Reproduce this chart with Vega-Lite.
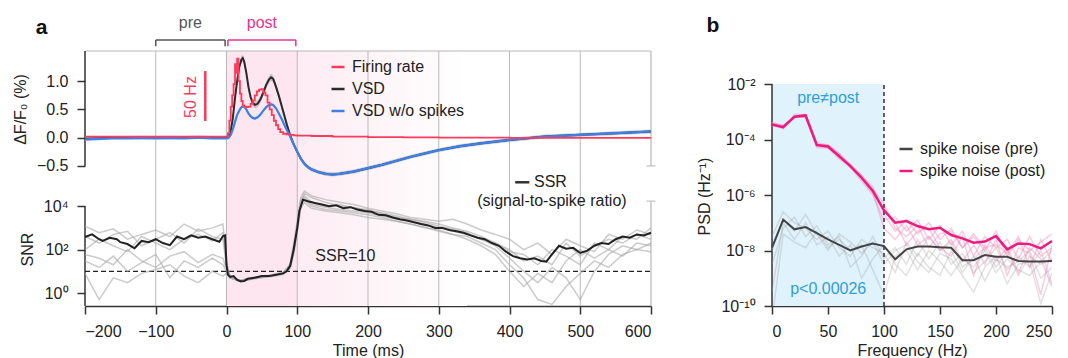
{
"$schema":"https://vega.github.io/schema/vega-lite/v6.json",
"background":"white",
"padding":{"left":12,"top":14,"right":0,"bottom":0},
"config":{"font":"Liberation Sans","view":{"stroke":null},
 "axis":{"labelFontSize":16,"titleFontSize":16,"labelColor":"#222","titleColor":"#222","tickColor":"#333","domainColor":"#333","tickWidth":1.5,"domainWidth":1.5,"tickSize":8,"labelPadding":9,"grid":false,"titleFontWeight":"normal"},
 "legend":{"labelFontSize":16,"labelColor":"#222","symbolType":"stroke","symbolStrokeWidth":2.5,"symbolSize":170,"padding":0,"rowPadding":6,"labelOffset":6}},
"datasets":{
 "vsd":[
  {"t":-200,"v":-0.02,"b":-0.03,"vl":-0.05,"vh":0.01,"bl":-0.055,"bh":-0.005},
  {"t":-180,"v":-0.01,"b":-0.02,"vl":-0.04,"vh":0.02,"bl":-0.045,"bh":0.005},
  {"t":-160,"v":0.0,"b":-0.01,"vl":-0.03,"vh":0.03,"bl":-0.035,"bh":0.015},
  {"t":-140,"v":0.0,"b":-0.01,"vl":-0.03,"vh":0.03,"bl":-0.035,"bh":0.015},
  {"t":-120,"v":0.005,"b":-0.005,"vl":-0.025,"vh":0.035,"bl":-0.03,"bh":0.02},
  {"t":-100,"v":0.0,"b":-0.01,"vl":-0.03,"vh":0.03,"bl":-0.035,"bh":0.015},
  {"t":-80,"v":0.005,"b":-0.005,"vl":-0.025,"vh":0.035,"bl":-0.03,"bh":0.02},
  {"t":-60,"v":0.0,"b":-0.01,"vl":-0.03,"vh":0.03,"bl":-0.035,"bh":0.015},
  {"t":-40,"v":0.01,"b":0.0,"vl":-0.02,"vh":0.04,"bl":-0.025,"bh":0.025},
  {"t":-20,"v":0.0,"b":-0.01,"vl":-0.03,"vh":0.03,"bl":-0.035,"bh":0.015},
  {"t":-5,"v":0.0,"b":-0.01,"vl":-0.03,"vh":0.03,"bl":-0.035,"bh":0.015},
  {"t":0,"v":0.0,"b":-0.01,"vl":-0.03,"vh":0.03,"bl":-0.035,"bh":0.015},
  {"t":3,"v":0.03,"b":0.0,"vl":-0.03,"vh":0.09,"bl":-0.025,"bh":0.025},
  {"t":6,"v":0.12,"b":0.05,"vl":0.06,"vh":0.18,"bl":0.025,"bh":0.075},
  {"t":9,"v":0.35,"b":0.15,"vl":0.29,"vh":0.41,"bl":0.125,"bh":0.175},
  {"t":12,"v":0.7,"b":0.28,"vl":0.64,"vh":0.76,"bl":0.255,"bh":0.305},
  {"t":15,"v":1.0,"b":0.4,"vl":0.94,"vh":1.06,"bl":0.375,"bh":0.425},
  {"t":18,"v":1.25,"b":0.48,"vl":1.19,"vh":1.31,"bl":0.455,"bh":0.505},
  {"t":21,"v":1.38,"b":0.54,"vl":1.32,"vh":1.44,"bl":0.515,"bh":0.565},
  {"t":23,"v":1.41,"b":0.555,"vl":1.35,"vh":1.47,"bl":0.53,"bh":0.58},
  {"t":25,"v":1.35,"b":0.55,"vl":1.29,"vh":1.41,"bl":0.525,"bh":0.575},
  {"t":28,"v":1.15,"b":0.5,"vl":1.09,"vh":1.21,"bl":0.475,"bh":0.525},
  {"t":31,"v":0.9,"b":0.43,"vl":0.84,"vh":0.96,"bl":0.405,"bh":0.455},
  {"t":34,"v":0.72,"b":0.38,"vl":0.66,"vh":0.78,"bl":0.355,"bh":0.405},
  {"t":37,"v":0.62,"b":0.35,"vl":0.56,"vh":0.68,"bl":0.325,"bh":0.375},
  {"t":40,"v":0.58,"b":0.34,"vl":0.52,"vh":0.64,"bl":0.315,"bh":0.365},
  {"t":44,"v":0.6,"b":0.36,"vl":0.54,"vh":0.66,"bl":0.335,"bh":0.385},
  {"t":48,"v":0.68,"b":0.41,"vl":0.62,"vh":0.74,"bl":0.385,"bh":0.435},
  {"t":52,"v":0.8,"b":0.48,"vl":0.74,"vh":0.86,"bl":0.455,"bh":0.505},
  {"t":56,"v":0.93,"b":0.54,"vl":0.87,"vh":0.99,"bl":0.515,"bh":0.565},
  {"t":60,"v":1.03,"b":0.58,"vl":0.97,"vh":1.09,"bl":0.555,"bh":0.605},
  {"t":63,"v":1.07,"b":0.59,"vl":1.01,"vh":1.13,"bl":0.565,"bh":0.615},
  {"t":66,"v":1.04,"b":0.58,"vl":0.98,"vh":1.1,"bl":0.555,"bh":0.605},
  {"t":70,"v":0.9,"b":0.52,"vl":0.84,"vh":0.96,"bl":0.495,"bh":0.545},
  {"t":74,"v":0.74,"b":0.43,"vl":0.68,"vh":0.8,"bl":0.405,"bh":0.455},
  {"t":78,"v":0.56,"b":0.33,"vl":0.5,"vh":0.62,"bl":0.305,"bh":0.355},
  {"t":82,"v":0.38,"b":0.22,"vl":0.32,"vh":0.44,"bl":0.195,"bh":0.245},
  {"t":86,"v":0.2,"b":0.12,"vl":0.14,"vh":0.26,"bl":0.095,"bh":0.145},
  {"t":90,"v":0.04,"b":0.02,"vl":-0.01,"vh":0.09,"bl":-0.005,"bh":0.045},
  {"t":95,"v":-0.12,"b":-0.12,"vl":-0.155,"vh":-0.085,"bl":-0.145,"bh":-0.095},
  {"t":100,"v":-0.25,"b":-0.25,"vl":-0.285,"vh":-0.215,"bl":-0.275,"bh":-0.225},
  {"t":105,"v":-0.37,"b":-0.37,"vl":-0.405,"vh":-0.335,"bl":-0.395,"bh":-0.345},
  {"t":110,"v":-0.46,"b":-0.46,"vl":-0.495,"vh":-0.425,"bl":-0.485,"bh":-0.435},
  {"t":115,"v":-0.52,"b":-0.52,"vl":-0.555,"vh":-0.485,"bl":-0.545,"bh":-0.495},
  {"t":120,"v":-0.56,"b":-0.56,"vl":-0.595,"vh":-0.525,"bl":-0.585,"bh":-0.535},
  {"t":130,"v":-0.61,"b":-0.61,"vl":-0.645,"vh":-0.575,"bl":-0.635,"bh":-0.585},
  {"t":140,"v":-0.64,"b":-0.64,"vl":-0.675,"vh":-0.605,"bl":-0.665,"bh":-0.615},
  {"t":150,"v":-0.65,"b":-0.65,"vl":-0.685,"vh":-0.615,"bl":-0.675,"bh":-0.625},
  {"t":160,"v":-0.64,"b":-0.64,"vl":-0.675,"vh":-0.605,"bl":-0.665,"bh":-0.615},
  {"t":170,"v":-0.62,"b":-0.62,"vl":-0.655,"vh":-0.585,"bl":-0.645,"bh":-0.595},
  {"t":180,"v":-0.6,"b":-0.6,"vl":-0.635,"vh":-0.565,"bl":-0.625,"bh":-0.575},
  {"t":200,"v":-0.54,"b":-0.54,"vl":-0.575,"vh":-0.505,"bl":-0.565,"bh":-0.515},
  {"t":220,"v":-0.48,"b":-0.48,"vl":-0.515,"vh":-0.445,"bl":-0.505,"bh":-0.455},
  {"t":240,"v":-0.41,"b":-0.41,"vl":-0.445,"vh":-0.375,"bl":-0.435,"bh":-0.385},
  {"t":260,"v":-0.34,"b":-0.34,"vl":-0.375,"vh":-0.305,"bl":-0.365,"bh":-0.315},
  {"t":280,"v":-0.28,"b":-0.28,"vl":-0.315,"vh":-0.245,"bl":-0.305,"bh":-0.255},
  {"t":300,"v":-0.22,"b":-0.22,"vl":-0.255,"vh":-0.185,"bl":-0.245,"bh":-0.195},
  {"t":330,"v":-0.15,"b":-0.15,"vl":-0.185,"vh":-0.115,"bl":-0.175,"bh":-0.125},
  {"t":360,"v":-0.1,"b":-0.1,"vl":-0.135,"vh":-0.065,"bl":-0.125,"bh":-0.075},
  {"t":400,"v":-0.04,"b":-0.04,"vl":-0.075,"vh":-0.005,"bl":-0.065,"bh":-0.015},
  {"t":450,"v":0.02,"b":0.02,"vl":-0.015,"vh":0.055,"bl":-0.005,"bh":0.045},
  {"t":500,"v":0.05,"b":0.05,"vl":0.015,"vh":0.085,"bl":0.025,"bh":0.075},
  {"t":550,"v":0.08,"b":0.08,"vl":0.045,"vh":0.115,"bl":0.055,"bh":0.105},
  {"t":600,"v":0.11,"b":0.11,"vl":0.075,"vh":0.145,"bl":0.085,"bh":0.135}
 ],
 "fr":[
  {"t":-200,"v":0.02},{"t":-100,"v":0.02},{"t":0,"v":0.02},{"t":2,"v":0.08},{"t":4,"v":0.3},{"t":6,"v":0.55},{"t":8,"v":0.75},{"t":10,"v":0.95},{"t":12,"v":1.3},{"t":13.5,"v":1.15},{"t":15,"v":1.4},{"t":17,"v":1.0},{"t":19,"v":0.78},{"t":21,"v":0.65},{"t":23,"v":0.57},{"t":25,"v":0.55},{"t":28,"v":0.54},{"t":31,"v":0.55},{"t":34,"v":0.6},{"t":37,"v":0.66},{"t":40,"v":0.75},{"t":43,"v":0.82},{"t":46,"v":0.85},{"t":49,"v":0.86},{"t":52,"v":0.8},{"t":55,"v":0.75},{"t":58,"v":0.62},{"t":61,"v":0.5},{"t":64,"v":0.4},{"t":67,"v":0.3},{"t":70,"v":0.22},{"t":73,"v":0.15},{"t":76,"v":0.1},{"t":80,"v":0.07},{"t":85,"v":0.06},{"t":90,"v":0.05},{"t":95,"v":0.04},{"t":100,"v":0.035},{"t":120,"v":0.03},{"t":150,"v":0.02},{"t":200,"v":0.01},{"t":250,"v":0.005},{"t":300,"v":0.0},{"t":400,"v":-0.005},{"t":600,"v":-0.005}
 ],
 "snr":[
  {"t":-200,"v":380},{"t":-190,"v":500},{"t":-180,"v":300},{"t":-175,"v":250},{"t":-165,"v":350},{"t":-155,"v":300},{"t":-150,"v":220},{"t":-140,"v":180},{"t":-130,"v":115},{"t":-120,"v":250},{"t":-110,"v":220},{"t":-100,"v":300},{"t":-90,"v":200},{"t":-80,"v":160},{"t":-70,"v":400},{"t":-60,"v":300},{"t":-50,"v":450},{"t":-40,"v":350},{"t":-30,"v":400},{"t":-20,"v":300},{"t":-10,"v":230},{"t":-5,"v":420},{"t":-2,"v":450},{"t":0,"v":20},{"t":2,"v":7},{"t":5,"v":5.5},{"t":10,"v":6},{"t":15,"v":4},{"t":20,"v":3.5},{"t":25,"v":3.6},{"t":30,"v":4.5},{"t":40,"v":5},{"t":50,"v":6},{"t":60,"v":6},{"t":70,"v":7},{"t":80,"v":8},{"t":85,"v":10},{"t":90,"v":18},{"t":95,"v":100},{"t":100,"v":1000},{"t":103,"v":6000},{"t":108,"v":20000},{"t":115,"v":17000},{"t":125,"v":14000},{"t":135,"v":12000},{"t":145,"v":10000},{"t":155,"v":11000},{"t":165,"v":8000},{"t":175,"v":9000},{"t":185,"v":7000},{"t":195,"v":6000},{"t":205,"v":5500},{"t":215,"v":4000},{"t":225,"v":3800},{"t":235,"v":3000},{"t":245,"v":2500},{"t":255,"v":2200},{"t":265,"v":1800},{"t":275,"v":1500},{"t":285,"v":1300},{"t":295,"v":1000},{"t":305,"v":1000},{"t":315,"v":800},{"t":325,"v":700},{"t":335,"v":600},{"t":345,"v":450},{"t":355,"v":350},{"t":365,"v":300},{"t":375,"v":200},{"t":385,"v":150},{"t":395,"v":80},{"t":405,"v":50},{"t":415,"v":40},{"t":425,"v":35},{"t":435,"v":40},{"t":445,"v":30},{"t":452,"v":28},{"t":460,"v":60},{"t":470,"v":150},{"t":480,"v":110},{"t":490,"v":120},{"t":500,"v":70},{"t":510,"v":90},{"t":520,"v":150},{"t":530,"v":200},{"t":540,"v":180},{"t":550,"v":300},{"t":560,"v":400},{"t":570,"v":350},{"t":580,"v":500},{"t":590,"v":450},{"t":600,"v":600}
 ],
 "snri":[
  {"t":-200,"g1":1200,"g2":100,"g3":30,"g4":400,"g5":8,"g6":60},
  {"t":-180,"g1":600,"g2":300,"g3":15,"g4":200,"g5":0.5,"g6":40},
  {"t":-160,"g1":900,"g2":150,"g3":50,"g4":500,"g5":5,"g6":20},
  {"t":-140,"g1":300,"g2":80,"g3":10,"g4":700,"g5":3,"g6":100},
  {"t":-120,"g1":500,"g2":400,"g3":25,"g4":150,"g5":8,"g6":30},
  {"t":-100,"g1":800,"g2":200,"g3":60,"g4":300,"g5":12,"g6":15},
  {"t":-80,"g1":400,"g2":100,"g3":5,"g4":600,"g5":20,"g6":50},
  {"t":-60,"g1":1500,"g2":300,"g3":30,"g4":200,"g5":6,"g6":80},
  {"t":-40,"g1":700,"g2":500,"g3":15,"g4":900,"g5":3,"g6":25},
  {"t":-20,"g1":1000,"g2":250,"g3":40,"g4":400,"g5":10,"g6":60},
  {"t":-5,"g1":1500,"g2":600,"g3":20,"g4":300,"g5":6,"g6":40},
  {"t":0,"g1":30,"g2":20,"g3":10,"g4":15,"g5":8,"g6":12},
  {"t":5,"g1":5,"g2":6,"g3":5,"g4":6.5,"g5":5,"g6":5.5},
  {"t":20,"g1":3.3,"g2":3.8,"g3":3.5,"g4":3.2,"g5":3.9,"g6":3.6},
  {"t":40,"g1":5,"g2":5.5,"g3":4.5,"g4":5,"g5":5.5,"g6":4.8},
  {"t":60,"g1":6,"g2":6.5,"g3":5.5,"g4":6.2,"g5":5.8,"g6":6},
  {"t":80,"g1":8,"g2":9,"g3":7,"g4":8.5,"g5":7.5,"g6":8},
  {"t":90,"g1":15,"g2":20,"g3":14,"g4":18,"g5":16,"g6":22},
  {"t":95,"g1":80,"g2":150,"g3":60,"g4":120,"g5":90,"g6":200},
  {"t":100,"g1":800,"g2":1500,"g3":600,"g4":1200,"g5":900,"g6":2000},
  {"t":105,"g1":12000,"g2":20000,"g3":8000,"g4":15000,"g5":10000,"g6":25000},
  {"t":110,"g1":40000,"g2":30000,"g3":15000,"g4":25000,"g5":20000,"g6":50000},
  {"t":120,"g1":25000,"g2":15000,"g3":8000,"g4":12000,"g5":10000,"g6":30000},
  {"t":140,"g1":15000,"g2":10000,"g3":6000,"g4":9000,"g5":7000,"g6":20000},
  {"t":160,"g1":10000,"g2":12000,"g3":5000,"g4":7000,"g5":6000,"g6":15000},
  {"t":180,"g1":9000,"g2":8000,"g3":4000,"g4":6000,"g5":5000,"g6":12000},
  {"t":200,"g1":6000,"g2":7000,"g3":3000,"g4":5000,"g5":4000,"g6":8000},
  {"t":220,"g1":5000,"g2":4500,"g3":2500,"g4":3500,"g5":3000,"g6":6000},
  {"t":240,"g1":3500,"g2":3000,"g3":2000,"g4":2500,"g5":2000,"g6":4500},
  {"t":260,"g1":2500,"g2":2500,"g3":1500,"g4":2000,"g5":1500,"g6":3000},
  {"t":280,"g1":2000,"g2":1800,"g3":1000,"g4":1500,"g5":1100,"g6":2500},
  {"t":300,"g1":1500,"g2":1200,"g3":800,"g4":1000,"g5":700,"g6":2000},
  {"t":320,"g1":1000,"g2":900,"g3":500,"g4":700,"g5":500,"g6":2500},
  {"t":340,"g1":700,"g2":600,"g3":300,"g4":500,"g5":400,"g6":1500},
  {"t":360,"g1":400,"g2":300,"g3":150,"g4":300,"g5":200,"g6":800},
  {"t":380,"g1":200,"g2":150,"g3":60,"g4":200,"g5":100,"g6":500},
  {"t":400,"g1":100,"g2":40,"g3":10,"g4":80,"g5":20,"g6":300},
  {"t":420,"g1":30,"g2":10,"g3":2,"g4":60,"g5":5,"g6":100},
  {"t":440,"g1":50,"g2":3,"g3":8,"g4":20,"g5":0.5,"g6":200},
  {"t":460,"g1":20,"g2":15,"g3":3,"g4":100,"g5":0.3,"g6":60},
  {"t":480,"g1":200,"g2":5,"g3":30,"g4":50,"g5":2,"g6":300},
  {"t":500,"g1":50,"g2":0.5,"g3":100,"g4":20,"g5":8,"g6":150},
  {"t":520,"g1":150,"g2":10,"g3":40,"g4":200,"g5":30,"g6":80},
  {"t":540,"g1":300,"g2":60,"g3":100,"g4":100,"g5":15,"g6":500},
  {"t":560,"g1":200,"g2":150,"g3":50,"g4":400,"g5":60,"g6":300},
  {"t":580,"g1":500,"g2":100,"g3":200,"g4":300,"g5":100,"g6":800},
  {"t":600,"g1":300,"g2":200,"g3":150,"g4":1000,"g5":80,"g6":500}
 ],
 "psd":[
  {"f":0,"pre":1.26e-8,"post":3.5e-4,"a1":3.2e-8,"a2":3.2e-9,"a3":3.2e-10,"a4":3.2e-11,"a5":1e-8,"b1":4e-4,"b2":3.2e-4,"b3":4e-4,"b4":3.2e-4,"b5":4e-4},
  {"f":10,"pre":1.3e-7,"post":2.8e-4,"a1":2.5e-7,"a2":6.3e-8,"a3":1e-7,"a4":4e-8,"a5":1.26e-7,"b1":3.2e-4,"b2":2.5e-4,"b3":2.5e-4,"b4":3.2e-4,"b5":3.2e-4},
  {"f":20,"pre":5.8e-8,"post":6.6e-4,"a1":1e-7,"a2":1.6e-7,"a3":2.5e-8,"a4":2e-8,"a5":5e-8,"b1":6.3e-4,"b2":6.3e-4,"b3":7.9e-4,"b4":6.3e-4,"b5":6.3e-4},
  {"f":30,"pre":7e-8,"post":7.4e-4,"a1":6.3e-8,"a2":3.2e-8,"a3":1e-7,"a4":1.26e-8,"a5":2e-7,"b1":7.9e-4,"b2":6.3e-4,"b3":7.9e-4,"b4":6.3e-4,"b5":7.9e-4},
  {"f":40,"pre":4.2e-8,"post":6.3e-5,"a1":2.5e-8,"a2":7.9e-8,"a3":1.6e-8,"a4":5e-8,"a5":4e-8,"b1":7.9e-5,"b2":5e-5,"b3":6.3e-5,"b4":6.3e-5,"b5":6.3e-5},
  {"f":50,"pre":2.5e-8,"post":5.6e-5,"a1":5e-8,"a2":1.6e-8,"a3":3.2e-8,"a4":1.26e-8,"a5":1e-8,"b1":6.3e-5,"b2":5e-5,"b3":6.3e-5,"b4":5e-5,"b5":6.3e-5},
  {"f":60,"pre":1.6e-8,"post":2.5e-5,"a1":1.26e-8,"a2":3.2e-8,"a3":6.3e-9,"a4":2.5e-8,"a5":4e-8,"b1":3.2e-5,"b2":2e-5,"b3":2.5e-5,"b4":2.5e-5,"b5":3.2e-5},
  {"f":70,"pre":1e-8,"post":1.1e-5,"a1":6.3e-9,"a2":2.5e-9,"a3":1.6e-8,"a4":1e-8,"a5":2e-8,"b1":1.26e-5,"b2":1e-5,"b3":1e-5,"b4":1.26e-5,"b5":1e-5},
  {"f":80,"pre":1.4e-8,"post":4.2e-6,"a1":2.5e-8,"a2":6.3e-9,"a3":1e-9,"a4":1.6e-8,"a5":7.9e-9,"b1":5e-6,"b2":3.2e-6,"b3":4e-6,"b4":5e-6,"b5":4e-6},
  {"f":90,"pre":1.8e-8,"post":1.4e-6,"a1":1.26e-8,"a2":3.2e-8,"a3":5e-9,"a4":2e-9,"a5":2e-8,"b1":2e-6,"b2":1e-6,"b3":1.26e-6,"b4":1.6e-6,"b5":1.26e-6},
  {"f":100,"pre":1.45e-8,"post":2.8e-7,"a1":7.9e-9,"a2":5e-9,"a3":1.6e-8,"a4":2.5e-10,"a5":3.2e-9,"b1":2e-7,"b2":1.26e-7,"b3":6.3e-8,"b4":5e-7,"b5":3.2e-7},
  {"f":110,"pre":4.8e-9,"post":1e-7,"a1":1.6e-9,"a2":1.26e-8,"a3":3.2e-9,"a4":6.3e-9,"a5":1e-8,"b1":5e-8,"b2":1.6e-7,"b3":2.5e-8,"b4":6.3e-8,"b5":1e-7},
  {"f":120,"pre":1.1e-8,"post":1.15e-7,"a1":2e-8,"a2":3.2e-9,"a3":1.26e-9,"a4":1e-8,"a5":1.6e-8,"b1":1.26e-7,"b2":5e-8,"b3":7.9e-8,"b4":3.2e-8,"b5":1.6e-8},
  {"f":130,"pre":1.4e-8,"post":7.6e-8,"a1":6.3e-9,"a2":2.5e-8,"a3":7.9e-9,"a4":2e-9,"a5":4e-9,"b1":4e-8,"b2":1.26e-7,"b3":1.6e-8,"b4":7.9e-8,"b5":5e-8},
  {"f":140,"pre":1.4e-8,"post":5.8e-8,"a1":3.2e-8,"a2":5e-9,"a3":2.5e-9,"a4":1e-8,"a5":1.6e-9,"b1":1e-7,"b2":2.5e-8,"b3":3.2e-8,"b4":1.26e-8,"b5":6.3e-8},
  {"f":150,"pre":1.3e-8,"post":6.6e-8,"a1":1e-8,"a2":2e-8,"a3":1.26e-9,"a4":4e-9,"a5":7.9e-9,"b1":2.5e-8,"b2":7.9e-8,"b3":1e-8,"b4":4e-8,"b5":1.26e-8},
  {"f":160,"pre":1.25e-8,"post":3.6e-8,"a1":2e-8,"a2":3.2e-9,"a3":1e-8,"a4":1.26e-9,"a5":5e-9,"b1":6.3e-8,"b2":1.6e-8,"b3":2.5e-8,"b4":5e-8,"b5":6.3e-9},
  {"f":170,"pre":4.5e-9,"post":2.75e-8,"a1":2.5e-9,"a2":7.9e-9,"a3":1.6e-9,"a4":5e-9,"a5":1.26e-9,"b1":1.26e-8,"b2":5e-8,"b3":4e-9,"b4":1.26e-8,"b5":3.2e-8},
  {"f":180,"pre":4.5e-9,"post":1.9e-8,"a1":5e-9,"a2":1.6e-9,"a3":6.3e-9,"a4":2.5e-9,"a5":3.2e-10,"b1":3.2e-8,"b2":6.3e-9,"b3":1.6e-8,"b4":4e-8,"b5":1.26e-9},
  {"f":190,"pre":6.9e-9,"post":2.1e-8,"a1":1.26e-8,"a2":4e-9,"a3":7.9e-10,"a4":1e-8,"a5":2.5e-9,"b1":1e-8,"b2":3.2e-8,"b3":3.2e-9,"b4":1.26e-8,"b5":1.6e-8},
  {"f":200,"pre":6e-9,"post":3.3e-8,"a1":2.5e-9,"a2":1.26e-8,"a3":5e-9,"a4":1.6e-9,"a5":6.3e-9,"b1":5e-8,"b2":1.26e-8,"b3":2.5e-8,"b4":1.6e-8,"b5":4e-9},
  {"f":210,"pre":5.9e-9,"post":1.1e-8,"a1":1e-8,"a2":2e-9,"a3":2.5e-9,"a4":5e-9,"a5":6.3e-10,"b1":6.3e-9,"b2":2.5e-8,"b3":1.26e-9,"b4":7.9e-9,"b5":1.26e-8},
  {"f":220,"pre":4.2e-9,"post":1.8e-8,"a1":1.26e-9,"a2":6.3e-9,"a3":4e-9,"a4":2e-9,"a5":3.2e-9,"b1":2.5e-8,"b2":5e-9,"b3":1.26e-8,"b4":3.2e-8,"b5":1.6e-9},
  {"f":230,"pre":4e-9,"post":1.7e-8,"a1":6.3e-9,"a2":2.5e-9,"a3":1e-8,"a4":1.26e-9,"a5":4e-9,"b1":1e-8,"b2":3.2e-8,"b3":7.9e-9,"b4":2.5e-9,"b5":1.26e-8},
  {"f":240,"pre":4e-9,"post":1.2e-8,"a1":3.2e-9,"a2":1e-8,"a3":1e-9,"a4":4e-9,"a5":1.26e-10,"b1":2e-8,"b2":6.3e-9,"b3":2.5e-10,"b4":2.5e-8,"b5":5e-9},
  {"f":250,"pre":4.2e-9,"post":2.2e-8,"a1":5e-9,"a2":6.3e-10,"a3":2.5e-9,"a4":1e-8,"a5":1.6e-9,"b1":4e-8,"b2":1.26e-8,"b3":1.6e-8,"b4":4e-9,"b5":5e-10}
 ]
},
"spacing":40,
"resolve":{"scale":{"color":"independent"},"legend":{"color":"independent"}},
"hconcat":[
 {"bounds":"flush","spacing":0,"vconcat":[
  {"width":566,"height":133,
   "encoding":{
    "x":{"field":"t","type":"quantitative","scale":{"domain":[-200,600],"nice":false,"zero":false},"axis":null},
    "y":{"field":"v","type":"quantitative","scale":{"domain":[-0.82,1.535],"nice":false,"zero":false},"axis":{"values":[-0.5,0,0.5,1],"format":".1f","domain":false,"title":"ΔF/F₀ (%)","titlePadding":8,"titleY":58}}},
   "layer":[
    {"data":{"values":[{"t":0,"t2":100}]},"mark":{"type":"rect","color":"#fde6f0"},"encoding":{"x2":{"field":"t2"},"y":{"value":0},"y2":{"value":"height"}}},
    {"data":{"values":[{"t":100,"t2":340}]},"mark":{"type":"rect","color":{"gradient":"linear","x1":0,"y1":0,"x2":1,"y2":0,"stops":[{"offset":0,"color":"#fdecf3"},{"offset":1,"color":"#ffffff"}]}},"encoding":{"x2":{"field":"t2"},"y":{"value":0},"y2":{"value":"height"}}},
    {"data":{"values":[{"t":-100},{"t":0},{"t":100},{"t":200},{"t":300},{"t":400},{"t":500}]},"mark":{"type":"rule","color":"#b8b8b8","strokeWidth":1},"encoding":{"y":{"value":0},"y2":{"value":"height"}}},
    {"data":{"values":[{"t":600,"v":-0.5,"v2":1.535}]},"mark":{"type":"rule","color":"#b8b8b8","strokeWidth":1.2},"encoding":{"y2":{"field":"v2"}}},
    {"data":{"values":[{"t":600,"v":-0.5}]},"mark":{"type":"tick","orient":"horizontal","size":9,"thickness":1.5,"color":"#b8b8b8"},"encoding":{}},
    {"data":{"values":[{"t":-200,"t2":600,"v":1.535}]},"mark":{"type":"rule","color":"#b8b8b8","strokeWidth":1.2},"encoding":{"x2":{"field":"t2"}}},
    {"data":{"values":[{"t":-200,"v":-0.5,"v2":1.535}]},"mark":{"type":"rule","color":"#333","strokeWidth":1.5},"encoding":{"y2":{"field":"v2"}}},
    {"data":{"name":"vsd"},"mark":{"type":"area","color":"#8c8c8c","opacity":0.45},"encoding":{"y":{"field":"vl","type":"quantitative"},"y2":{"field":"vh"}}},
    {"data":{"name":"vsd"},"mark":{"type":"area","color":"#9cc0f2","opacity":0.7},"encoding":{"y":{"field":"bl","type":"quantitative"},"y2":{"field":"bh"}}},
    {"data":{"name":"vsd"},"mark":{"type":"line","strokeWidth":2},"encoding":{"color":{"datum":"VSD","type":"nominal","scale":{"domain":["Firing rate","VSD","VSD w/o spikes"],"range":["#ff3b5c","#2b2b2b","#3f80e6"]},"legend":{"orient":"none","legendX":245,"legendY":8,"title":null}}}},
    {"data":{"name":"vsd"},"mark":{"type":"line","strokeWidth":2.2},"encoding":{"y":{"field":"b","type":"quantitative"},"color":{"datum":"VSD w/o spikes","type":"nominal"}}},
    {"data":{"name":"fr"},"mark":{"type":"line","interpolate":"step-after","strokeWidth":1.8},"encoding":{"color":{"datum":"Firing rate","type":"nominal"}}},
    {"data":{"values":[{"t":-30,"v":0.296,"v2":1.18}]},"mark":{"type":"rule","color":"#ff3b5c","strokeWidth":2.5},"encoding":{"y2":{"field":"v2"}}},
    {"data":{"values":[{"t":-50,"v":0.72,"label":"50 Hz"}]},"mark":{"type":"text","angle":270,"color":"#ff3b5c","fontSize":16,"align":"center","baseline":"middle"},"encoding":{"text":{"field":"label","type":"nominal"}}},
    {"data":{"values":[{"t":-51,"v":1.94,"label":"pre"}]},"mark":{"type":"text","color":"#555","fontSize":16,"align":"center","baseline":"alphabetic"},"encoding":{"text":{"field":"label","type":"nominal"}}},
    {"data":{"values":[{"t":50,"v":1.94,"label":"post"}]},"mark":{"type":"text","color":"#e8338c","fontSize":16,"align":"center","baseline":"alphabetic"},"encoding":{"text":{"field":"label","type":"nominal"}}},
    {"data":{"values":[{"t":-100,"t2":-2,"v":1.73,"v2":1.73},{"t":-100,"t2":-100,"v":1.62,"v2":1.73},{"t":-2,"t2":-2,"v":1.62,"v2":1.73}]},"mark":{"type":"rule","color":"#555","strokeWidth":1.5},"encoding":{"x2":{"field":"t2"},"y2":{"field":"v2"}}},
    {"data":{"values":[{"t":2,"t2":98,"v":1.73,"v2":1.73},{"t":2,"t2":2,"v":1.62,"v2":1.73},{"t":98,"t2":98,"v":1.62,"v2":1.73}]},"mark":{"type":"rule","color":"#e8338c","strokeWidth":1.5},"encoding":{"x2":{"field":"t2"},"y2":{"field":"v2"}}},
    {"data":{"values":[{"t":-261.5,"v":1.835,"label":"a"}]},"mark":{"type":"text","fontSize":21,"fontWeight":"bold","color":"#111","align":"center","baseline":"alphabetic"},"encoding":{"text":{"field":"label","type":"nominal"}}}
   ]},
  {"width":566,"height":122,
   "encoding":{
    "x":{"field":"t","type":"quantitative","scale":{"domain":[-200,600],"nice":false,"zero":false},"axis":{"values":[-200,-100,0,100,200,300,400,500,600],"title":"Time (ms)","titlePadding":3}},
    "y":{"field":"v","type":"quantitative","scale":{"type":"log","domain":[0.252,105000],"nice":false},"axis":{"values":[1,100,10000],"labelExpr":"datum.value > 5000 ? '10⁴' : datum.value > 50 ? '10²' : '10⁰'","domain":false,"title":"SNR","titlePadding":8,"titleY":65}}},
   "layer":[
    {"data":{"values":[{"t":0,"t2":100}]},"mark":{"type":"rect","color":"#fde6f0"},"encoding":{"x2":{"field":"t2"},"y":{"value":0},"y2":{"value":"height"}}},
    {"data":{"values":[{"t":100,"t2":340}]},"mark":{"type":"rect","color":{"gradient":"linear","x1":0,"y1":0,"x2":1,"y2":0,"stops":[{"offset":0,"color":"#fdecf3"},{"offset":1,"color":"#ffffff"}]}},"encoding":{"x2":{"field":"t2"},"y":{"value":0},"y2":{"value":"height"}}},
    {"data":{"values":[{"t":-100},{"t":0},{"t":100},{"t":200},{"t":300},{"t":400},{"t":500}]},"mark":{"type":"rule","color":"#b8b8b8","strokeWidth":1},"encoding":{"y":{"value":0},"y2":{"value":"height"}}},
    {"data":{"values":[{"t":600,"v":0.252,"v2":17000}]},"mark":{"type":"rule","color":"#b8b8b8","strokeWidth":1.2},"encoding":{"y2":{"field":"v2"}}},
    {"data":{"values":[{"t":600,"v":17000}]},"mark":{"type":"tick","orient":"horizontal","size":9,"thickness":1.5,"color":"#b8b8b8"},"encoding":{}},
    {"data":{"values":[{"t":-200,"v":0.252,"v2":10000}]},"mark":{"type":"rule","color":"#333","strokeWidth":1.5},"encoding":{"y2":{"field":"v2"}}},
    {"data":{"values":[{"t":-200,"t2":600,"v":10}]},"mark":{"type":"rule","color":"#222","strokeWidth":1.2,"strokeDash":[5,3]},"encoding":{"x2":{"field":"t2"}}},
    {"data":{"name":"snri"},"transform":[{"fold":["g1","g2","g3","g4","g5","g6"],"as":["k","v"]}],"mark":{"type":"line","color":"#a8a8a8","opacity":0.6,"strokeWidth":1.5,"clip":true},"encoding":{"detail":{"field":"k","type":"nominal"}}},
    {"data":{"name":"snr"},"mark":{"type":"line","color":"#222","strokeWidth":2},"encoding":{}},
    {"data":{"values":[{"t":168,"v":30,"label":"SSR=10"}]},"mark":{"type":"text","color":"#222","fontSize":16,"align":"center","baseline":"alphabetic"},"encoding":{"text":{"field":"label","type":"nominal"}}},
    {"data":{"values":[{"t":408,"t2":428,"v":126000}]},"mark":{"type":"rule","color":"#333","strokeWidth":2.5},"encoding":{"x2":{"field":"t2"}}},
    {"data":{"values":[{"t":434.6,"v":74000,"label":"SSR"}]},"mark":{"type":"text","color":"#222","fontSize":16,"align":"left","baseline":"alphabetic"},"encoding":{"text":{"field":"label","type":"nominal"}}},
    {"data":{"values":[{"t":460,"v":10000,"label":"(signal-to-spike ratio)"}]},"mark":{"type":"text","color":"#222","fontSize":16,"align":"center","baseline":"alphabetic"},"encoding":{"text":{"field":"label","type":"nominal"}}}
   ]}
 ]},
 {"width":280,"height":255,
  "encoding":{
   "x":{"field":"f","type":"quantitative","scale":{"domain":[0,250],"nice":false,"zero":false},"axis":{"values":[0,50,100,150,200,250],"title":"Frequency (Hz)","titlePadding":3}},
   "y":{"field":"v","type":"quantitative","scale":{"type":"log","domain":[1e-10,0.155],"nice":false},"axis":{"values":[1e-10,1e-8,1e-6,1e-4,1e-2],"labelExpr":"datum.value > 1e-3 ? '10⁻²' : datum.value > 1e-5 ? '10⁻⁴' : datum.value > 1e-7 ? '10⁻⁶' : datum.value > 1e-9 ? '10⁻⁸' : '10⁻¹⁰'","domain":false,"title":"PSD (Hz⁻¹)","titlePadding":8,"titleY":145}}},
  "layer":[
   {"data":{"values":[{"f":0,"f2":100,"v":1e-10,"v2":0.01}]},"mark":{"type":"rect","color":"#e0f3fc"},"encoding":{"x2":{"field":"f2"},"y2":{"field":"v2"}}},
   {"data":{"values":[{"f":0,"v":1e-10,"v2":0.01}]},"mark":{"type":"rule","color":"#333","strokeWidth":1.5},"encoding":{"y2":{"field":"v2"}}},
   {"data":{"name":"psd"},"transform":[{"fold":["a1","a2","a3","a4","a5"],"as":["k","v"]}],"mark":{"type":"line","color":"#9a9a9a","opacity":0.3,"strokeWidth":1.5,"clip":true},"encoding":{"detail":{"field":"k","type":"nominal"}}},
   {"data":{"name":"psd"},"transform":[{"fold":["b1","b2","b3","b4","b5"],"as":["k","v"]}],"mark":{"type":"line","color":"#f28cbc","opacity":0.45,"strokeWidth":1.5,"clip":true},"encoding":{"detail":{"field":"k","type":"nominal"}}},
   {"data":{"values":[{"f":100,"v":1e-10,"v2":0.01}]},"mark":{"type":"rule","color":"#111","strokeWidth":1.3,"strokeDash":[4,3]},"encoding":{"y2":{"field":"v2"}}},
   {"data":{"name":"psd"},"mark":{"type":"line","strokeWidth":2},"encoding":{"y":{"field":"pre","type":"quantitative"},"color":{"datum":"spike noise (pre)","type":"nominal","scale":{"domain":["spike noise (pre)","spike noise (post)"],"range":["#444444","#ee1a7f"]},"legend":{"orient":"none","legendX":126,"legendY":90,"title":null}}}},
   {"data":{"name":"psd"},"mark":{"type":"line","strokeWidth":2.5},"encoding":{"y":{"field":"post","type":"quantitative"},"color":{"datum":"spike noise (post)","type":"nominal"}}},
   {"data":{"values":[{"f":50.2,"v":0.0021,"label":"pre≠post"}]},"mark":{"type":"text","color":"#2e9fd8","fontSize":16,"align":"center","baseline":"alphabetic"},"encoding":{"text":{"field":"label","type":"nominal"}}},
   {"data":{"values":[{"f":50.2,"v":2.8e-10,"label":"p<0.00026"}]},"mark":{"type":"text","color":"#2e9fd8","fontSize":16,"align":"center","baseline":"alphabetic"},"encoding":{"text":{"field":"label","type":"nominal"}}},
   {"data":{"values":[{"f":-52.7,"v":0.77,"label":"b"}]},"mark":{"type":"text","fontSize":21,"fontWeight":"bold","color":"#111","align":"center","baseline":"alphabetic"},"encoding":{"text":{"field":"label","type":"nominal"}}}
  ]}
]
}
